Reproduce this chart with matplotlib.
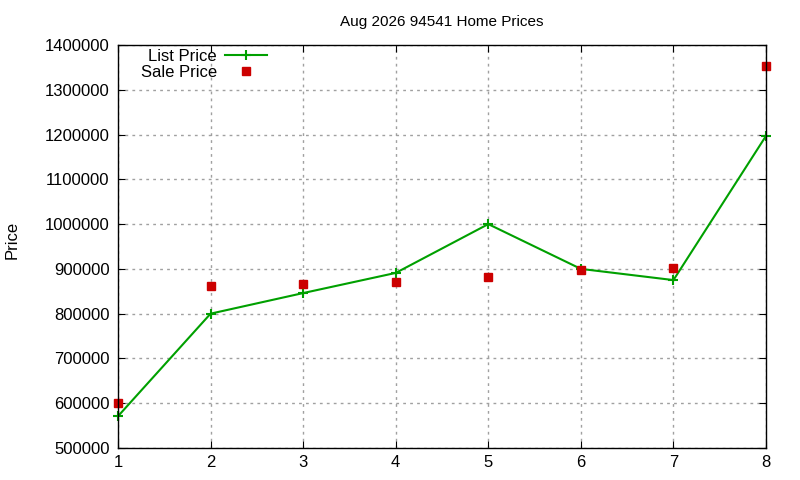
import numpy as np
import matplotlib
matplotlib.use("Agg")
import matplotlib.pyplot as plt

plt.rcParams["font.family"] = ["Liberation Sans", "DejaVu Sans"]

# Data
months = [1, 2, 3, 4, 5, 6, 7, 8]
list_price = [571000, 800000, 846000, 891000, 1000000, 900000, 875000, 1197000]
sale_price = [600000, 862000, 866000, 871000, 882000, 898000, 901000, 1352000]
yticks = np.arange(500000, 1400001, 100000)

fig = plt.figure(figsize=(8, 4.8), dpi=100)
ax = fig.add_axes([118 / 800, 32 / 480, 648 / 800, 403 / 480])

ax.plot(months, list_price, color="#00a000", lw=1.5, marker="+",
        markersize=7, markeredgewidth=1.5, label="List Price", clip_on=False)
ax.plot(months, sale_price, ls="none", color="#cc0000", marker="s",
        markersize=6, label="Sale Price", clip_on=False)

ax.set_xlim(1, 8)
ax.set_ylim(500000, 1400000)
ax.set_xticks(months)
ax.set_yticks(yticks)
ax.set_yticklabels([str(v) for v in yticks])
ax.tick_params(direction="in", top=True, right=True, labelsize=12, length=5)
ax.tick_params(axis="y", pad=6)
ax.tick_params(axis="x", pad=5)
ax.grid(True, color="#a0a0a0", ls=(0, (2, 3)), lw=1)
for s in ax.spines.values():
    s.set_linewidth(1)

ax.set_title("Aug 2026 94541 Home Prices", fontsize=11, pad=14)
fig.text(12 / 800, 0.5, "Price", rotation=90, va="center", ha="center", fontsize=12)

leg = ax.legend(loc="upper right", bbox_to_anchor=(267 / 800, 1 - 49 / 480),
                bbox_transform=fig.transFigure, frameon=False,
                markerfirst=False, fontsize=12, handlelength=2.5,
                handletextpad=0.5, labelspacing=0.05, borderaxespad=0,
                borderpad=0)
for t in leg.get_texts():
    t.set_ha("right")

fig.savefig("out.png", dpi=100)
